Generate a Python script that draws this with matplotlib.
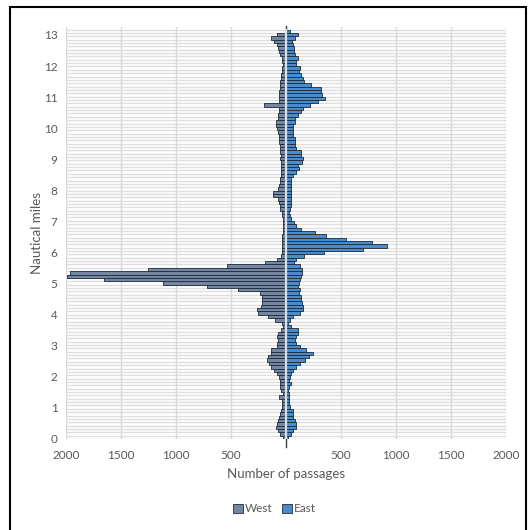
import numpy as np
import matplotlib.pyplot as plt
from matplotlib.patches import Rectangle, Patch

# passages per 200 m bin, from 0 nm upwards
west = [25, 55, 70, 90, 78, 70, 60, 50, 42, 40,
        40, 40, 60, 30, 42, 55, 50, 50, 65, 80,
        105, 135, 150, 175, 165, 140, 140, 80, 80, 72,
        80, 70, 45, 25, 40, 100, 160, 250, 265, 230,
        215, 215, 215, 235, 435, 720, 1115, 1655, 1990, 1965,
        1255, 540, 190, 80, 45, 35, 35, 35, 35, 35,
        35, 30, 28, 25, 30, 30, 33, 36, 50, 55,
        60, 75, 120, 115, 70, 65, 55, 50, 45, 45,
        45, 45, 48, 50, 48, 50, 55, 55, 60, 60,
        65, 70, 85, 90, 88, 75, 70, 65, 65, 195,
        65, 65, 60, 60, 58, 55, 50, 45, 45, 40,
        36, 30, 32, 40, 50, 60, 70, 85, 110, 140,
        85, 10]
east = [15, 42, 65, 96, 90, 80, 65, 65, 60, 36,
        30, 30, 30, 30, 20, 30, 42, 30, 36, 50,
        65, 90, 125, 170, 210, 245, 180, 125, 90, 80,
        90, 110, 110, 50, 20, 36, 65, 125, 155, 155,
        150, 140, 140, 115, 125, 110, 120, 125, 140, 150,
        145, 130, 75, 90, 160, 345, 700, 915, 780, 550,
        365, 260, 140, 95, 72, 50, 40, 30, 36, 50,
        45, 50, 45, 45, 50, 50, 45, 50, 65, 95,
        120, 110, 150, 155, 140, 140, 95, 80, 80, 80,
        65, 60, 65, 65, 80, 80, 110, 140, 155, 215,
        290, 360, 330, 320, 320, 230, 160, 155, 140, 120,
        132, 96, 90, 110, 80, 78, 72, 65, 55, 82,
        110, 36]

BIN_NM = 200 / 1852.0
x_ticks = [-2000, -1500, -1000, -500, 0, 500, 1000, 1500, 2000]
x_labels = ["2000", "1500", "1000", "500", "", "500", "1000", "1500", "2000"]

plt.rcParams['font.family'] = ['Lato', 'DejaVu Sans']

miles = (np.arange(len(west)) + 0.5) * BIN_NM
edges = np.arange(len(west) + 1) * BIN_NM

fig = plt.figure(figsize=(5.28, 5.30), dpi=100)
ax = fig.add_axes([0.125, 0.1717, 0.833, 0.777])

ax.barh(miles, -np.array(west), height=BIN_NM, color='#7386a2',
        edgecolor='#1f2a38', linewidth=0.6, zorder=2, label='West')
ax.barh(miles, east, height=BIN_NM, color='#4a8bcb',
        edgecolor='#1f2a38', linewidth=0.6, zorder=2, label='East')

# axis line through zero
ax.plot([0, 0], [-0.25, 13.28], color='#404040', lw=1.0, zorder=1, clip_on=False)
ax.plot([0, 0], [0, edges[-1]], color='#d5e2ee', lw=1.6, zorder=3)

ax.set_xlim(-2000, 2000)
ax.set_ylim(0, 13.25)
ax.set_xticks(x_ticks)
ax.set_xticklabels(x_labels)
ax.set_yticks(range(14))
ax.tick_params(axis='both', which='both', length=0, colors='#595959', labelsize=8.5)
ax.tick_params(axis='x', pad=8)
ax.tick_params(axis='y', pad=6)

ax.grid(False)
for y in edges:
    ax.axhline(y, color='#dedede', lw=1.0, zorder=0)
for x in x_ticks:
    ax.axvline(x, color='#d9d9d9', lw=1.0, zorder=0)
for s in ax.spines.values():
    s.set_visible(False)

ax.set_xlabel('Number of passages', color='#595959', fontsize=9.5, labelpad=5)
ax.set_ylabel('Nautical miles', color='#595959', fontsize=9.5, labelpad=1)

handles = [Patch(facecolor='#7386a2', edgecolor='#1f2a38', linewidth=0.6, label='West'),
           Patch(facecolor='#4a8bcb', edgecolor='#1f2a38', linewidth=0.6, label='East')]
fig.legend(handles=handles, loc='center', bbox_to_anchor=(0.52, 0.04), ncol=2,
           frameon=False, fontsize=8.5, handlelength=0.8, handleheight=0.8,
           handletextpad=0.2, columnspacing=0.8, labelcolor='#595959')

fig.patches.append(Rectangle((10 / 528, -0.01), 516 / 528, 1.0 - 7 / 530 + 0.01,
                             transform=fig.transFigure, fill=False,
                             edgecolor='black', linewidth=1.5))

fig.savefig('out.png', dpi=100)
